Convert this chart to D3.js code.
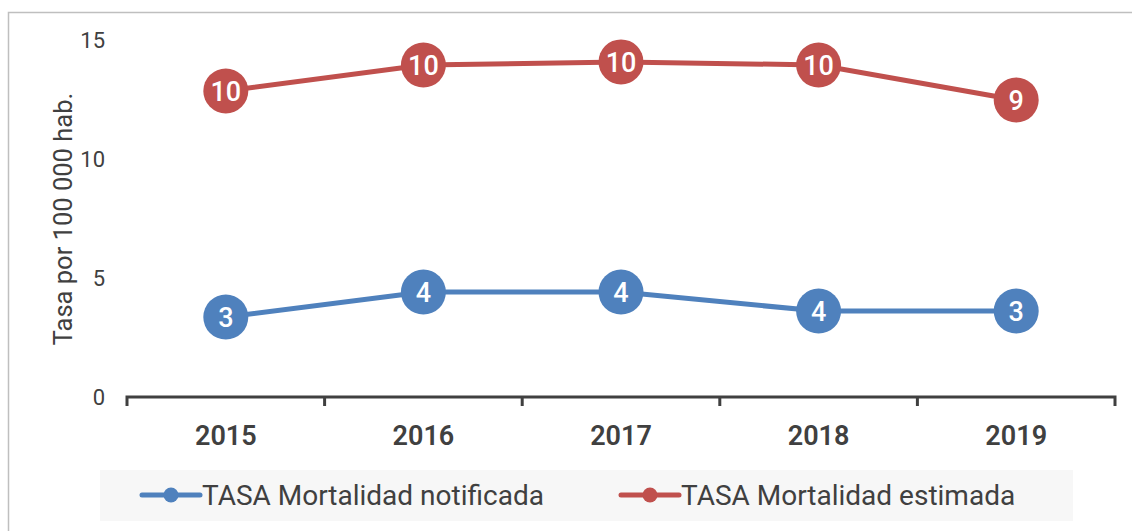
<!DOCTYPE html>
<html>
<head>
<meta charset="utf-8">
<script src="https://cdn.jsdelivr.net/npm/d3@7"></script>
<style>
  body { margin: 0; background: #fff; }
  svg { display: block; font-family: "Roboto", "DejaVu Sans", sans-serif; }
</style>
</head>
<body>
<div id="chart"></div>
<script>
// data
var years = ["2015", "2016", "2017", "2018", "2019"];
var tasaNotificada = [3.36, 4.41, 4.41, 3.61, 3.61];
var tasaEstimada = [12.86, 13.95, 14.08, 13.95, 12.48];
var labelsNotificada = ["3", "4", "4", "4", "3"];
var labelsEstimada = ["10", "10", "10", "10", "9"];
var yTicks = [0, 5, 10, 15];
var seriesNames = ["TASA Mortalidad notificada", "TASA Mortalidad estimada"];
var seriesColors = ["#4F81BD", "#C0504D"];

var W = 1132, H = 531;
var plot = {left: 127, right: 1115, top: 40, bottom: 397};
var textColor = "#404040";

var svg = d3.select("#chart").append("svg")
  .attr("width", W)
  .attr("height", H);

// outer frame (runs past the right and bottom edges)
svg.append("rect")
  .attr("x", 8.5).attr("y", 12.5)
  .attr("width", W + 20).attr("height", H + 20)
  .attr("fill", "none")
  .attr("stroke", "#BFBFBF")
  .attr("stroke-width", 1.5);

// scales
var x = d3.scaleBand().domain(years).range([plot.left, plot.right]);
var y = d3.scaleLinear().domain([0, 15]).range([plot.bottom, plot.top]);

// y tick labels, no axis line
svg.append("g")
  .attr("transform", "translate(" + (plot.left - 22) + ",0)")
  .call(d3.axisLeft(y).tickValues(yTicks).tickSize(0).tickPadding(0))
  .call(function(g) { g.select(".domain").remove(); })
  .selectAll("text")
  .attr("fill", textColor)
  .style("font-size", "22px")
  .style("font-family", "Roboto, sans-serif");

// x axis
var xAxis = svg.append("g")
  .attr("transform", "translate(0," + plot.bottom + ")")
  .call(d3.axisBottom(x).tickSize(0).tickPadding(29));
xAxis.select(".domain")
  .attr("stroke", textColor)
  .attr("stroke-width", 3)
  .attr("d", "M" + plot.left + ",9V0H" + plot.right + "V9");
xAxis.selectAll("text")
  .attr("fill", textColor)
  .style("font-size", "27px")
  .style("font-weight", "600")
  .style("font-family", "Roboto, sans-serif");

// band boundary ticks
var bounds = years.map(function(d) { return x(d); }).slice(1);
xAxis.selectAll(".bound")
  .data(bounds)
  .enter()
  .append("line")
  .attr("class", "bound")
  .attr("x1", function(d) { return d; })
  .attr("x2", function(d) { return d; })
  .attr("y1", 0).attr("y2", 9)
  .attr("stroke", textColor)
  .attr("stroke-width", 3);

// y axis title
svg.append("text")
  .attr("transform", "translate(72,219) rotate(-90)")
  .attr("text-anchor", "middle")
  .attr("fill", textColor)
  .style("font-size", "25.5px")
  .text("Tasa por 100 000 hab.");

var line = d3.line()
  .x(function(d, i) { return x(years[i]) + x.bandwidth() / 2; })
  .y(function(d) { return y(d); });

function drawSeries(values, labels, color) {
  var g = svg.append("g");
  g.append("path")
    .datum(values)
    .attr("d", line)
    .attr("fill", "none")
    .attr("stroke", color)
    .attr("stroke-width", 5);
  var pts = g.selectAll(".pt")
    .data(values)
    .enter()
    .append("g")
    .attr("class", "pt")
    .attr("transform", function(d, i) {
      return "translate(" + (x(years[i]) + x.bandwidth() / 2) + "," + y(d) + ")";
    });
  pts.append("circle")
    .attr("r", 22.5)
    .attr("fill", color);
  pts.append("text")
    .attr("text-anchor", "middle")
    .attr("dy", "0.36em")
    .attr("fill", "#fff")
    .style("font-size", "27px")
    .style("font-weight", "500")
    .text(function(d, i) { return labels[i]; });
}

drawSeries(tasaNotificada, labelsNotificada, seriesColors[0]);
drawSeries(tasaEstimada, labelsEstimada, seriesColors[1]);

// legend
var legend = svg.append("g");
legend.append("rect")
  .attr("x", 100).attr("y", 470)
  .attr("width", 973).attr("height", 51)
  .attr("fill", "#F7F7F7");

var legendX = [142, 621];
var items = legend.selectAll(".item")
  .data(seriesNames)
  .enter()
  .append("g")
  .attr("class", "item")
  .attr("transform", function(d, i) { return "translate(" + legendX[i] + ",495)"; });
items.append("line")
  .attr("x1", 0).attr("x2", 58)
  .attr("stroke", function(d, i) { return seriesColors[i]; })
  .attr("stroke-width", 5)
  .attr("stroke-linecap", "round");
items.append("circle")
  .attr("cx", 29)
  .attr("r", 7.5)
  .attr("fill", function(d, i) { return seriesColors[i]; });
items.append("text")
  .attr("x", 60)
  .attr("dy", "0.36em")
  .attr("fill", textColor)
  .style("font-size", "28px")
  .text(function(d) { return d; });
</script>
</body>
</html>
